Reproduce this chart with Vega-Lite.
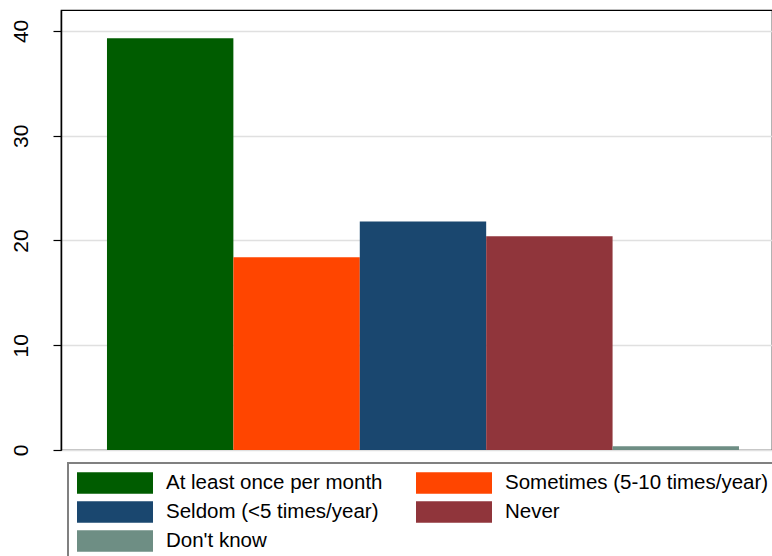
{
  "$schema": "https://vega.github.io/schema/vega-lite/v6.json",
  "width": 711,
  "height": 440,
  "autosize": {"type": "none"},
  "padding": {"left": 61, "top": 10, "right": 0, "bottom": 106},
  "background": "white",
  "config": {
    "font": "Liberation Sans",
    "view": {"stroke": "black", "strokeWidth": 1.2}
  },
  "data": {
    "values": [
      {"category": "At least once per month", "percent": 39.3},
      {"category": "Sometimes (5-10 times/year)", "percent": 18.4},
      {"category": "Seldom (<5 times/year)", "percent": 21.8},
      {"category": "Never", "percent": 20.4},
      {"category": "Don't know", "percent": 0.35}
    ]
  },
  "mark": {"type": "bar"},
  "encoding": {
    "x": {
      "field": "category",
      "type": "nominal",
      "sort": ["At least once per month", "Sometimes (5-10 times/year)", "Seldom (<5 times/year)", "Never", "Don't know"],
      "axis": null,
      "scale": {"paddingInner": 0, "paddingOuter": 0.3125, "align": 0.582}
    },
    "y": {
      "field": "percent",
      "type": "quantitative",
      "scale": {"domain": [0, 42], "nice": false, "zero": true},
      "axis": {
        "title": null,
        "values": [0, 10, 20, 30, 40],
        "labelAngle": -90,
        "labelFontSize": 21,
        "labelColor": "black",
        "labelPadding": 22,
        "tickSize": 8,
        "tickColor": "black",
        "tickWidth": 1.2,
        "domainColor": "black",
        "domainWidth": 1.5,
        "grid": true,
        "gridColor": "#e0e0e0",
        "gridWidth": 1.5
      }
    },
    "color": {
      "field": "category",
      "type": "nominal",
      "scale": {
        "domain": ["At least once per month", "Seldom (<5 times/year)", "Don't know", "Sometimes (5-10 times/year)", "Never"],
        "range": ["#005C00", "#1A476F", "#6E8E84", "#FF4500", "#90353B"]
      },
      "legend": {
        "orient": "none",
        "legendX": 7,
        "legendY": 453,
        "columns": 2,
        "title": null,
        "symbolType": "M-1,-0.283H1V0.283H-1Z",
        "symbolSize": 5776,
        "symbolStrokeWidth": 0,
        "symbolOpacity": 1,
        "clipHeight": 22,
        "labelFontSize": 20.5,
        "labelColor": "black",
        "labelOffset": 13,
        "labelLimit": 400,
        "columnPadding": 33,
        "rowPadding": 7,
        "padding": 9,
        "strokeColor": "#808080",
        "fillColor": "white",
        "encode": {"legend": {"update": {"strokeWidth": {"value": 2}}}}
      }
    }
  }
}
